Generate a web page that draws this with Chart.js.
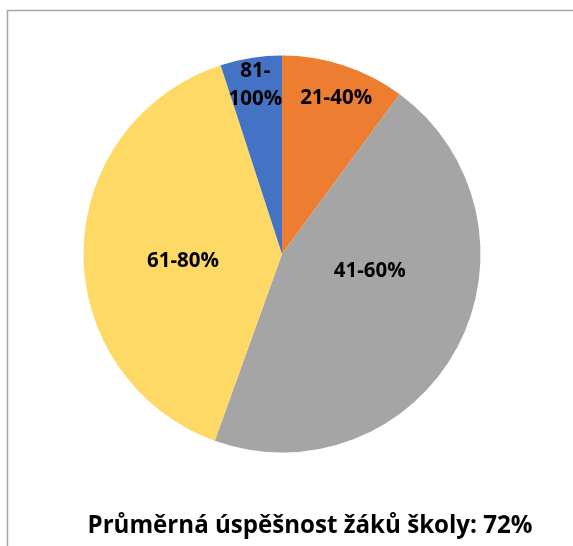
<!DOCTYPE html>
<html>
<head>
<meta charset="utf-8">
<script src="https://cdn.jsdelivr.net/npm/chart.js@4/dist/chart.umd.min.js"></script>
<style>
  html, body { margin: 0; padding: 0; background: #ffffff; }
  #wrap { position: relative; width: 573px; height: 546px; overflow: hidden; }
  canvas { display: block; }
</style>
</head>
<body>
<div id="wrap"><canvas id="c" width="573" height="546"></canvas></div>
<script>
// ---- data ----
const categories = ['21-40%', '41-60%', '61-80%', '81-100%'];
const labelLines = [['21-40%'], ['41-60%'], ['61-80%'], ['81-', '100%']];
const shares = [10.1, 45.4, 39.5, 5.0];
const titleText = 'Průměrná úspěšnost žáků školy: 72%';

// ---- style ----
const colors = ['#ED7D31', '#A5A5A5', '#FFD966', '#4472C4'];
const labelRadius = [0.83, 0.45, 0.50, 0.86];
const labelAngleOffsetDeg = [1, -17, -5, 0];
const FONT_FAMILY = '"Open Sans", Lato, "Liberation Sans", sans-serif';

function fitFontSize(ctx, text, targetWidth) {
  ctx.font = 'bold 20px ' + FONT_FAMILY;
  const w = ctx.measureText(text).width;
  return 20 * targetWidth / w;
}

const decorPlugin = {
  id: 'decor',
  beforeDraw(chart) {
    const ctx = chart.ctx;
    ctx.save();
    ctx.fillStyle = '#ffffff';
    ctx.fillRect(0, 0, chart.width, chart.height);
    ctx.strokeStyle = '#A6A6A6';
    ctx.lineWidth = 1.5;
    ctx.strokeRect(7.5, 10.5, 800, 800);
    ctx.restore();
  },
  afterDatasetsDraw(chart) {
    const ctx = chart.ctx;
    const meta = chart.getDatasetMeta(0);
    ctx.save();
    const size = fitFontSize(ctx, '61-80%', 72);
    ctx.font = 'bold ' + size.toFixed(2) + 'px ' + FONT_FAMILY;
    ctx.fillStyle = '#000000';
    ctx.textAlign = 'center';
    ctx.textBaseline = 'middle';
    meta.data.forEach((arc, i) => {
      const p = arc.getProps(['x', 'y', 'startAngle', 'endAngle', 'outerRadius'], true);
      const a = (p.startAngle + p.endAngle) / 2 + labelAngleOffsetDeg[i] * Math.PI / 180;
      const r = p.outerRadius * labelRadius[i];
      const cx = p.x + r * Math.cos(a);
      const cy = p.y + r * Math.sin(a);
      const lines = labelLines[i];
      const lh = 28;
      lines.forEach((t, k) => {
        ctx.fillText(t, cx, cy + (k - (lines.length - 1) / 2) * lh);
      });
    });
    // title
    const ts = fitFontSize(ctx, titleText, 445);
    ctx.font = 'bold ' + ts.toFixed(2) + 'px ' + FONT_FAMILY;
    ctx.textBaseline = 'alphabetic';
    ctx.fillText(titleText, 310, 533);
    ctx.restore();
  }
};

new Chart(document.getElementById('c'), {
  type: 'pie',
  data: {
    labels: categories,
    datasets: [{
      data: shares,
      backgroundColor: colors,
      borderWidth: 0
    }]
  },
  options: {
    responsive: false,
    devicePixelRatio: 1,
    animation: false,
    layout: { padding: { left: 83.5, right: 92.5, top: 55.5, bottom: 93.5 } },
    plugins: {
      legend: { display: false },
      tooltip: { enabled: false },
      title: { display: false }
    }
  },
  plugins: [decorPlugin]
});
</script>
</body>
</html>
